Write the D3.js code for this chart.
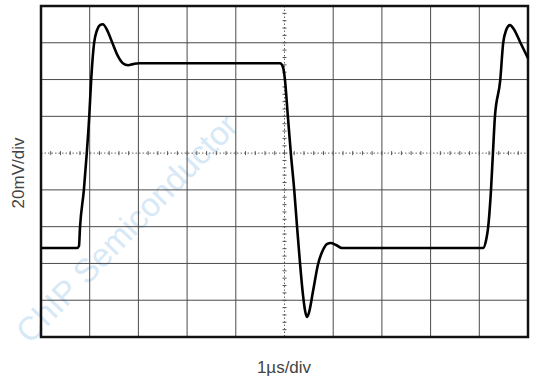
<!DOCTYPE html>
<html><head><meta charset="utf-8">
<script src="https://cdn.jsdelivr.net/npm/d3@7"></script>
<style>body{margin:0;background:#fff}svg{display:block}</style>
</head><body>
<svg id="c" width="535" height="383"></svg>
<script>
const timeUs = [0,0.74,0.78,0.80,0.88,0.94,0.99,1.03,1.09,1.15,1.21,1.27,1.36,1.46,1.58,1.68,1.79,1.89,2.01,4.91,4.97,5.01,5.07,5.13,5.20,5.26,5.32,5.38,5.42,5.46,5.50,5.59,5.69,5.79,5.87,5.95,6.06,6.18,9.08,9.14,9.18,9.24,9.28,9.32,9.43,9.49,9.55,9.63,9.71,9.84,10.0];
const voltageMv = [-51.6,-51.6,-50.5,-40.8,-20.1,0,19.6,39.7,59.8,66.8,69.6,70.1,66.8,60.3,52.7,48.9,47.8,48.4,48.9,48.9,46.7,39.7,19.6,0,-20.1,-40.8,-60.3,-77.2,-85.3,-89.1,-87,-74.5,-60.3,-52.7,-49.5,-48.9,-50,-51.6,-51.6,-47.3,-40.8,-20.1,0,19.6,39.7,59.8,66.8,69.6,67.4,60.3,51.6];
const xDomain = [0, 10];        // µs, 10 divisions
const yDomain = [-100, 80];     // mV, 9 divisions of 20 mV
const xLabel = "1µs/div";
const yLabel = "20mV/div";
const watermark = "ChIP Semiconductor";

const svg = d3.select("#c");
const L = 41, R = 528, T = 6, B = 337;
const x = d3.scaleLinear().domain(xDomain).range([L, R]);
const y = d3.scaleLinear().domain(yDomain).range([B, T]);

// watermark
svg.append("text").attr("transform","translate(30,345) rotate(-46)")
  .attr("font-family","Liberation Sans, Arial, sans-serif").attr("font-size",33)
  .attr("fill","#9cc6ea").attr("opacity",0.4).text(watermark);

const g = svg.append("g");
const xt = d3.range(xDomain[0], xDomain[1] + 0.001, 1);
const yt = d3.range(yDomain[0], yDomain[1] + 0.001, 20);
// grid
g.selectAll(".vx").data(xt.filter(d => d !== 5)).enter().append("line")
  .attr("x1", d => x(d)).attr("x2", d => x(d)).attr("y1", T).attr("y2", B)
  .attr("stroke", "#4a4a4a").attr("stroke-width", 1);
g.selectAll(".hy").data(yt.filter(d => d !== 0)).enter().append("line")
  .attr("y1", d => y(d)).attr("y2", d => y(d)).attr("x1", L).attr("x2", R)
  .attr("stroke", "#4a4a4a").attr("stroke-width", 1);
// center dotted lines with minor ticks
g.append("line").attr("x1", x(5)).attr("x2", x(5)).attr("y1", T).attr("y2", B)
  .attr("stroke", "#666").attr("stroke-dasharray", "1.5,2");
g.append("line").attr("y1", y(0)).attr("y2", y(0)).attr("x1", L).attr("x2", R)
  .attr("stroke", "#666").attr("stroke-dasharray", "1.5,2");
const minorX = d3.range(xDomain[0], xDomain[1] + 0.001, 0.2);
g.selectAll(".mx").data(minorX).enter().append("line")
  .attr("x1", d => x(d)).attr("x2", d => x(d)).attr("y1", y(0) - 2).attr("y2", y(0) + 2)
  .attr("stroke", "#555").attr("stroke-width", 1);
const minorY = d3.range(yDomain[0], yDomain[1] + 0.001, 4);
g.selectAll(".my").data(minorY).enter().append("line")
  .attr("y1", d => y(d)).attr("y2", d => y(d)).attr("x1", x(5) - 2).attr("x2", x(5) + 2)
  .attr("stroke", "#555").attr("stroke-width", 1);

// frame
g.append("rect").attr("x", L).attr("y", T).attr("width", R - L).attr("height", B - T)
  .attr("fill", "none").attr("stroke", "#111").attr("stroke-width", 2.5);

// waveform
const pts = timeUs.map((t, i) => [t, voltageMv[i]]);
const line = d3.line().x(d => x(d[0])).y(d => y(d[1])).curve(d3.curveMonotoneX);
g.append("path").datum(pts).attr("d", line).attr("fill", "none")
  .attr("stroke", "#000").attr("stroke-width", 2.6).attr("stroke-linejoin","round");

// labels
svg.append("text").attr("x", 284).attr("y", 373).attr("text-anchor", "middle")
  .attr("font-family", "Liberation Sans, Arial, sans-serif").attr("font-size", 17)
  .attr("fill", "#444").text(xLabel);
svg.append("text").attr("transform", "translate(24,173) rotate(-90)").attr("text-anchor", "middle")
  .attr("font-family", "Liberation Sans, Arial, sans-serif").attr("font-size", 17)
  .attr("fill", "#444").text(yLabel);
</script>
</body></html>
